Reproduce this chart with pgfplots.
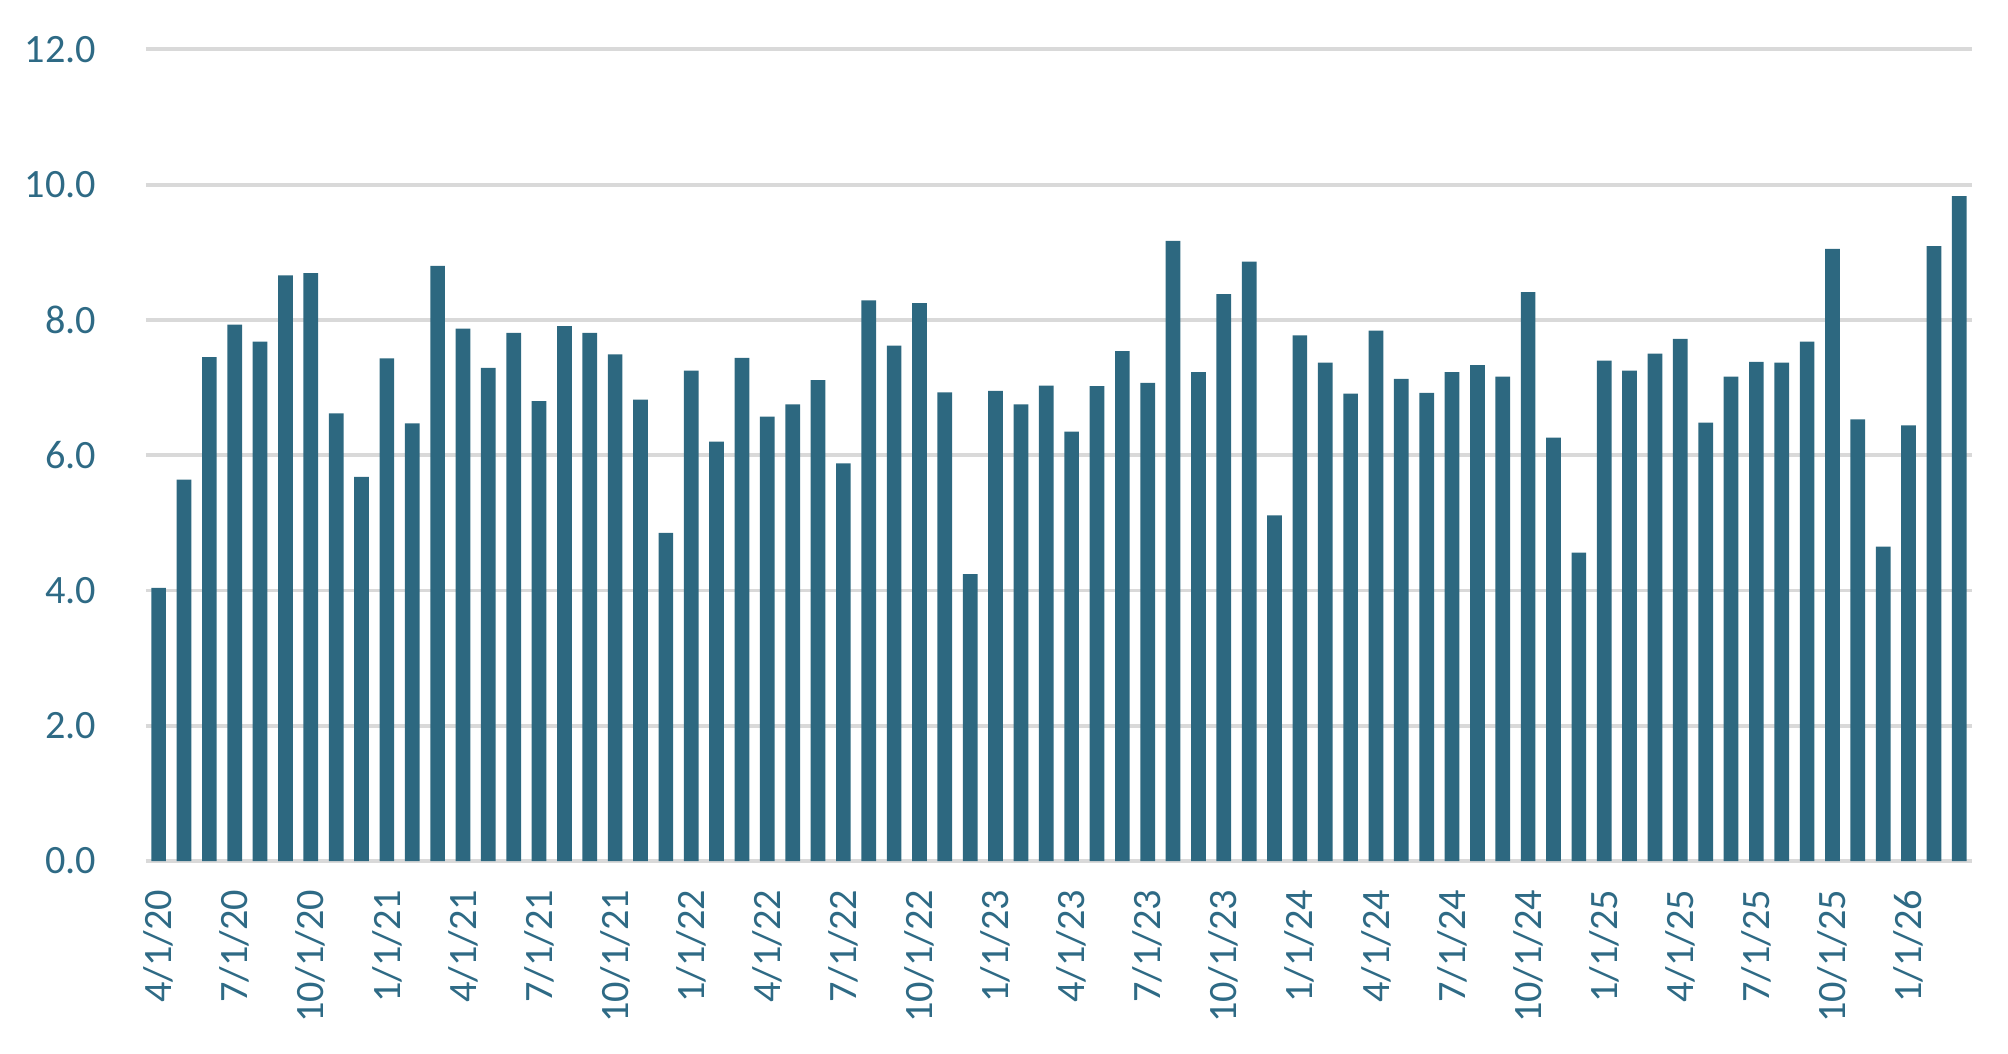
\documentclass[border=0pt]{standalone}
\usepackage{fontspec}
\setmainfont{Carlito}
\usepackage{pgfplots}
\pgfplotsset{compat=1.18}
\usepackage{pgfplotstable}
\definecolor{barc}{HTML}{2D6880}
\definecolor{txtc}{HTML}{2E6A85}
\definecolor{gridc}{HTML}{D9D9D9}
\pgfplotstableread{
x y
1 4.04
2 5.64
3 7.45
4 7.93
5 7.68
6 8.66
7 8.69
8 6.62
9 5.68
10 7.43
11 6.47
12 8.80
13 7.87
14 7.29
15 7.81
16 6.80
17 7.91
18 7.81
19 7.49
20 6.82
21 4.85
22 7.25
23 6.20
24 7.44
25 6.57
26 6.75
27 7.11
28 5.88
29 8.29
30 7.62
31 8.25
32 6.93
33 4.24
34 6.95
35 6.75
36 7.03
37 6.35
38 7.02
39 7.54
40 7.07
41 9.17
42 7.23
43 8.38
44 8.86
45 5.11
46 7.77
47 7.37
48 6.91
49 7.84
50 7.13
51 6.92
52 7.23
53 7.33
54 7.16
55 8.41
56 6.26
57 4.56
58 7.40
59 7.25
60 7.50
61 7.72
62 6.48
63 7.16
64 7.38
65 7.37
66 7.68
67 9.05
68 6.53
69 4.65
70 6.44
71 9.09
72 9.83
}\datatable
\begin{document}
\begin{tikzpicture}
\useasboundingbox (-41.7pt,-55.1pt) rectangle (532pt,246pt);
\begin{axis}[
  at={(0,0)}, anchor=south west,
  width=521.7pt, height=231.9pt, scale only axis,
  xmin=0.5, xmax=72.5, ymin=0, ymax=12,
  enlarge x limits=false,
  axis x line*=bottom, axis y line*=left,
  y axis line style={draw=none},
  x axis line style={draw=gridc, line width=1.1pt},
  ytick={0,2,...,12},
  ymajorgrids, major grid style={draw=gridc, line width=1.1pt},
  ytick style={draw=none},
  xtick={1,4,...,70},
  xticklabels={4/1/20,7/1/20,10/1/20,1/1/21,4/1/21,7/1/21,10/1/21,1/1/22,4/1/22,7/1/22,10/1/22,1/1/23,4/1/23,7/1/23,10/1/23,1/1/24,4/1/24,7/1/24,10/1/24,1/1/25,4/1/25,7/1/25,10/1/25,1/1/26},
  xtick style={draw=none},
  major tick length=0pt,
  extra x ticks={0.5,3.5,...,72.5},
  extra x tick labels={},
  extra x tick style={major tick length=3.8pt, tick align=outside, tick style={draw=gridc, line width=1.1pt}, xmajorgrids=false},
  tick label style={font=\fontsize{11.5pt}{13pt}\selectfont, text=txtc},
  /pgf/number format/assume math mode=true,
  yticklabel={\pgfmathprintnumber[fixed, fixed zerofill, precision=1]{\tick}},
  yticklabel style={anchor=east, inner sep=0pt, xshift=-14pt},
  xticklabel style={rotate=90, anchor=east, inner sep=0pt},
  xticklabel shift=8pt,
  ybar, bar width=4.2pt,
]
\addplot[fill=barc, draw=none] table[x=x, y=y] {\datatable};
\end{axis}
\end{tikzpicture}
\end{document}
